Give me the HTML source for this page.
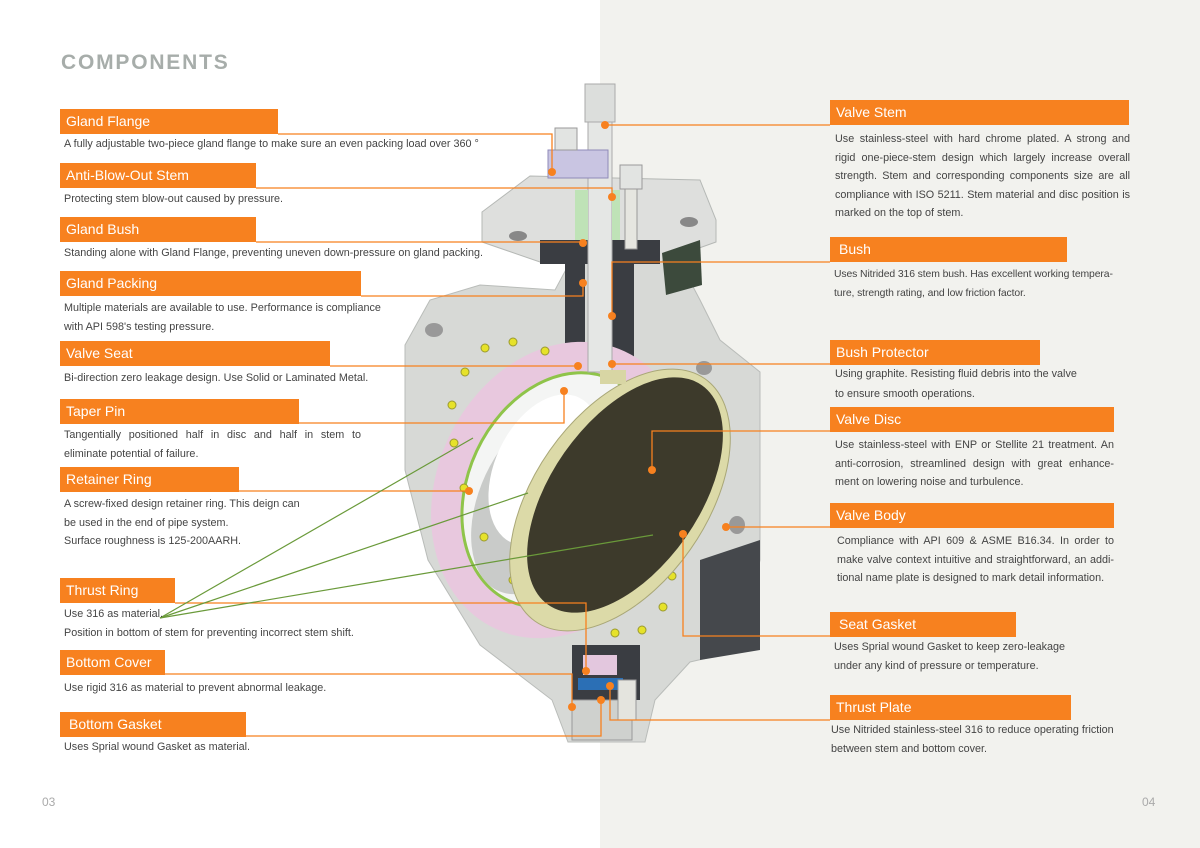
<!DOCTYPE html>
<html><head><meta charset="utf-8"><style>
*{margin:0;padding:0;box-sizing:border-box}
body{width:1200px;height:848px;position:relative;background:#fff;font-family:"Liberation Sans",sans-serif;overflow:hidden}
#rp{position:absolute;left:600px;top:0;width:600px;height:848px;background:#f2f2ee}
.bar{position:absolute;height:25px;background:#f7811f;color:#fff;font-size:14px;line-height:25px;padding-left:6px}
.d{position:absolute;font-size:10.8px;color:#444;line-height:18.5px}
.r{text-align:justify;width:295px}
h1{position:absolute;left:61px;top:51px;font-size:21px;font-weight:bold;color:#a7adaa;letter-spacing:1.8px}
svg{position:absolute;left:0;top:0}
.pg{position:absolute;top:795px;font-size:12px;color:#aaa}
</style></head><body>
<div id="rp"></div>
<h1>COMPONENTS</h1>
<svg width="1200" height="848">
<polygon points="405,345 430,300 480,285 555,290 570,262 680,262 700,300 720,340 760,372 760,560 742,650 690,662 655,700 645,742 568,742 552,700 480,645 428,560 405,470" fill="#d7d9d6" stroke="#b9bcb9"/>
<polygon points="482,212 530,176 700,180 716,220 716,242 660,262 540,262 482,242" fill="#dedfdd" stroke="#b5b8b5"/>
<rect x="540" y="240" width="120" height="24" fill="#3a3d42"/>
<polygon points="700,560 760,540 760,650 700,660" fill="#45484c"/>
<rect x="565" y="260" width="20" height="110" fill="#3a3d42"/>
<rect x="612" y="260" width="22" height="110" fill="#3a3d42"/>
<ellipse cx="518" cy="236" rx="9" ry="5" fill="#888"/>
<ellipse cx="689" cy="222" rx="9" ry="5" fill="#888"/>
<ellipse cx="434" cy="330" rx="9" ry="7" fill="#999"/>
<ellipse cx="704" cy="368" rx="8" ry="7" fill="#999"/>
<ellipse cx="737" cy="525" rx="8" ry="9" fill="#999"/>
<ellipse cx="560" cy="490" rx="108" ry="138" transform="rotate(25 560 490)" fill="none" stroke="#e8c8de" stroke-width="30"/>
<ellipse cx="560" cy="490" rx="92" ry="122" transform="rotate(25 560 490)" fill="#f4f5f4" stroke="#8fc44a" stroke-width="3"/>
<ellipse cx="540" cy="500" rx="60" ry="100" transform="rotate(25 540 500)" fill="#c9cbc9"/>
<ellipse cx="545" cy="470" rx="50" ry="80" transform="rotate(25 545 470)" fill="#fff"/>
<g fill="#e6e22a" stroke="#9a9a30">
<circle cx="485" cy="348" r="4"/><circle cx="513" cy="342" r="4"/><circle cx="545" cy="351" r="4"/><circle cx="465" cy="372" r="4"/><circle cx="452" cy="405" r="4"/><circle cx="454" cy="443" r="4"/><circle cx="464" cy="488" r="4"/><circle cx="484" cy="537" r="4"/><circle cx="513" cy="580" r="4"/><circle cx="546" cy="604" r="4"/><circle cx="581" cy="623" r="4"/><circle cx="615" cy="633" r="4"/><circle cx="642" cy="630" r="4"/><circle cx="663" cy="607" r="4"/><circle cx="672" cy="576" r="4"/>
</g>
<ellipse cx="620" cy="500" rx="86" ry="148" transform="rotate(35 620 500)" fill="#dcdaa8" stroke="#a9a777"/>
<ellipse cx="625" cy="495" rx="74" ry="134" transform="rotate(35 625 495)" fill="#3d3a2b"/>
<rect x="588" y="100" width="24" height="272" fill="#e5e7e5" stroke="#aaa"/>
<rect x="585" y="84" width="30" height="38" fill="#dcdedc" stroke="#aaa"/>
<rect x="600" y="370" width="26" height="14" fill="#d8d6a4"/>
<rect x="548" y="150" width="60" height="28" fill="#c9c5e2" stroke="#8f8ab8"/>
<rect x="555" y="128" width="22" height="22" fill="#e2e4e2" stroke="#999"/>
<rect x="620" y="165" width="22" height="24" fill="#e2e4e2" stroke="#999"/>
<rect x="625" y="189" width="12" height="60" fill="#e6e6e0" stroke="#999"/>
<rect x="575" y="190" width="13" height="50" fill="#bfe3b7"/>
<rect x="612" y="190" width="8" height="50" fill="#bfe3b7"/>
<rect x="572" y="645" width="68" height="55" fill="#3a3d42"/>
<rect x="583" y="655" width="34" height="20" fill="#e3c7de"/>
<rect x="578" y="678" width="45" height="12" fill="#2b6fb5"/>
<rect x="572" y="700" width="60" height="40" fill="#cfd1ce" stroke="#999"/>
<rect x="618" y="680" width="18" height="40" fill="#e4e4de" stroke="#999"/>
<polygon points="662,253 700,240 702,285 666,295" fill="#3c4a3c"/>
<g fill="none" stroke="#f7811f" stroke-width="1.3">
<polyline points="278,134 552,134 552,172"/>
<polyline points="256,188 612,188 612,197"/>
<polyline points="256,242 583,242"/>
<polyline points="361,296 583,296 583,283"/>
<polyline points="330,366 578,366"/>
<polyline points="299,423 564,423 564,391"/>
<polyline points="239,491 469,491"/>
<polyline points="175,603 586,603 586,671"/>
<polyline points="165,674 572,674 572,707"/>
<polyline points="246,736 601,736 601,700"/>
<polyline points="605,125 830,125"/>
<polyline points="830,262 612,262 612,316"/>
<polyline points="612,364 830,364"/>
<polyline points="830,431 652,431 652,470"/>
<polyline points="726,527 830,527"/>
<polyline points="830,636 683,636 683,534"/>
<polyline points="830,720 610,720 610,686"/>
</g>
<g stroke="#6a9a3a" stroke-width="1.2">
<line x1="160" y1="618" x2="473" y2="438"/>
<line x1="160" y1="618" x2="528" y2="493"/>
<line x1="160" y1="618" x2="653" y2="535"/>
</g>
<g fill="#f7811f">
<circle cx="552" cy="172" r="4"/><circle cx="612" cy="197" r="4"/><circle cx="583" cy="243" r="4"/><circle cx="583" cy="283" r="4"/><circle cx="578" cy="366" r="4"/><circle cx="564" cy="391" r="4"/><circle cx="469" cy="491" r="4"/><circle cx="586" cy="671" r="4"/><circle cx="572" cy="707" r="4"/><circle cx="601" cy="700" r="4"/>
<circle cx="605" cy="125" r="4"/><circle cx="612" cy="316" r="4"/><circle cx="612" cy="364" r="4"/><circle cx="652" cy="470" r="4"/><circle cx="726" cy="527" r="4"/><circle cx="683" cy="534" r="4"/><circle cx="610" cy="686" r="4"/>
</g>
</svg>

<div class="bar" style="left:60px;top:109px;width:218px">Gland Flange</div>
<div class="d" style="left:64px;top:135px">A fully adjustable two-piece gland flange to make sure an even packing load over 360 °</div>
<div class="bar" style="left:60px;top:163px;width:196px">Anti-Blow-Out Stem</div>
<div class="d" style="left:64px;top:190px">Protecting stem blow-out caused by pressure.</div>
<div class="bar" style="left:60px;top:217px;width:196px">Gland Bush</div>
<div class="d" style="left:64px;top:244px">Standing alone with Gland Flange, preventing uneven down-pressure on gland packing.</div>
<div class="bar" style="left:60px;top:271px;width:301px">Gland Packing</div>
<div class="d" style="left:64px;top:299px">Multiple materials are available to use. Performance is compliance<br>with API 598's testing pressure.</div>
<div class="bar" style="left:60px;top:341px;width:270px">Valve Seat</div>
<div class="d" style="left:64px;top:369px">Bi-direction zero leakage design. Use Solid or Laminated Metal.</div>
<div class="bar" style="left:60px;top:399px;width:239px">Taper Pin</div>
<div class="d" style="left:64px;top:426px;width:297px;text-align:justify">Tangentially positioned half in disc and half in stem to eliminate potential of failure.</div>
<div class="bar" style="left:60px;top:467px;width:179px">Retainer Ring</div>
<div class="d" style="left:64px;top:495px">A screw-fixed design retainer ring. This deign can<br>be used in the end of pipe system.<br>Surface roughness is 125-200AARH.</div>
<div class="bar" style="left:60px;top:578px;width:115px">Thrust Ring</div>
<div class="d" style="left:64px;top:605px">Use 316 as material.<br>Position in bottom of stem for preventing incorrect stem shift.</div>
<div class="bar" style="left:60px;top:650px;width:105px">Bottom Cover</div>
<div class="d" style="left:64px;top:679px">Use rigid 316 as material to prevent abnormal leakage.</div>
<div class="bar" style="left:60px;top:712px;width:186px;padding-left:9px">Bottom Gasket</div>
<div class="d" style="left:64px;top:738px">Uses Sprial wound Gasket  as material.</div>

<div class="bar" style="left:830px;top:100px;width:299px">Valve Stem</div>
<div class="d r" style="left:835px;top:130px">Use stainless-steel with hard chrome plated. A strong and rigid one-piece-stem design which largely increase overall strength. Stem and corresponding components size are all compliance with ISO 5211. Stem material and disc position is marked on the top of stem.</div>
<div class="bar" style="left:830px;top:237px;width:237px;padding-left:9px">Bush</div>
<div class="d" style="left:834px;top:266px;font-size:10.4px;letter-spacing:-0.1px;white-space:nowrap">Uses Nitrided 316 stem bush. Has excellent working tempera-<br>ture, strength rating, and low friction factor.</div>
<div class="bar" style="left:830px;top:340px;width:210px">Bush Protector</div>
<div class="d" style="left:835px;top:365px;line-height:19.5px">Using graphite. Resisting fluid debris into the valve<br>to ensure smooth operations.</div>
<div class="bar" style="left:830px;top:407px;width:284px">Valve Disc</div>
<div class="d r" style="left:835px;top:436px;width:279px">Use stainless-steel with ENP or Stellite 21 treatment. An anti-corrosion, streamlined design with great enhance-ment on lowering noise and turbulence.</div>
<div class="bar" style="left:830px;top:503px;width:284px">Valve Body</div>
<div class="d r" style="left:837px;top:532px;width:277px">Compliance with API 609 &amp; ASME B16.34. In order to make valve context intuitive and straightforward, an addi-tional name plate is designed to mark detail information.</div>
<div class="bar" style="left:830px;top:612px;width:186px;padding-left:9px">Seat Gasket</div>
<div class="d" style="left:834px;top:638px">Uses Sprial wound Gasket to keep zero-leakage<br>under any kind of pressure or temperature.</div>
<div class="bar" style="left:830px;top:695px;width:241px">Thrust Plate</div>
<div class="d" style="left:831px;top:721px">Use Nitrided stainless-steel 316 to reduce operating friction<br>between stem and bottom cover.</div>

<div class="pg" style="left:42px">03</div>
<div class="pg" style="left:1142px">04</div>
</body></html>
